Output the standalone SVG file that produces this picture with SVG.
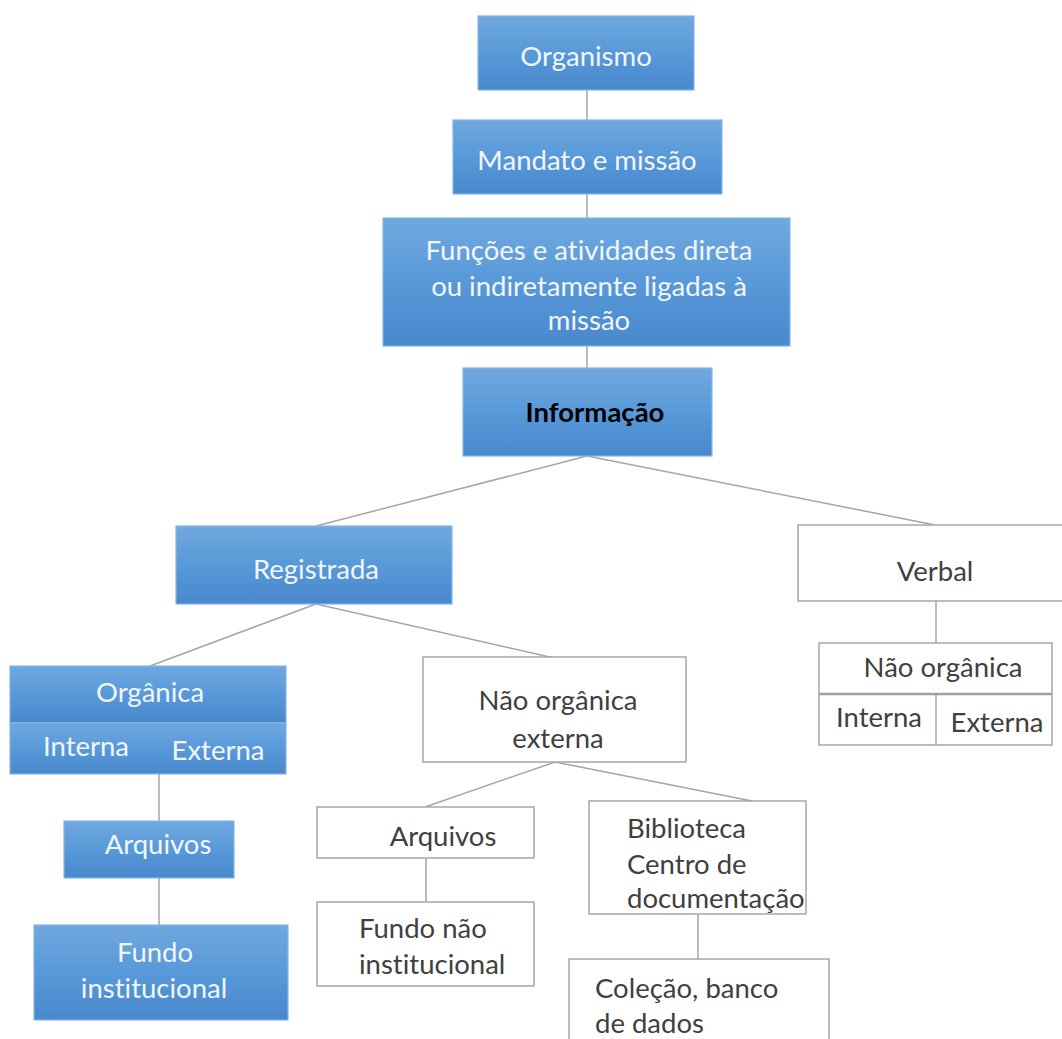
<svg xmlns="http://www.w3.org/2000/svg" width="1062" height="1039" viewBox="0 0 1062 1039">
<defs>
<linearGradient id="blue" x1="0" y1="0" x2="0" y2="1">
<stop offset="0" stop-color="#70a8df"/>
<stop offset="0.5" stop-color="#5899d9"/>
<stop offset="1" stop-color="#4888cc"/>
</linearGradient>
<style>
.b{fill:url(#blue);stroke:#86b6e4;stroke-width:1.2}
.w{fill:#ffffff;stroke:#a6a6a6;stroke-width:1.5}
.c{stroke:#a6a6a6;stroke-width:1.5;fill:none}
text{font-family:Lato,"Open Sans","Liberation Sans",sans-serif;font-size:27.5px;font-variant-ligatures:none}
.tb{fill:#f2f6fb;text-anchor:middle}
.tw{fill:#404040}
.m{text-anchor:middle}
</style>
</defs>
<rect width="1062" height="1039" fill="#ffffff"/>
<g id="connectors">
<line class="c" x1="587" y1="90" x2="587" y2="120"/>
<line class="c" x1="587" y1="194" x2="587" y2="218"/>
<line class="c" x1="587" y1="346" x2="587" y2="368"/>
<line class="c" x1="587" y1="456" x2="316" y2="526"/>
<line class="c" x1="587" y1="456" x2="935" y2="525"/>
<line class="c" x1="316" y1="604" x2="150" y2="666"/>
<line class="c" x1="316" y1="604" x2="554" y2="658"/>
<line class="c" x1="936" y1="601" x2="936" y2="643"/>
<line class="c" x1="159" y1="774" x2="159" y2="821"/>
<line class="c" x1="159" y1="878" x2="159" y2="925"/>
<line class="c" x1="555" y1="762" x2="425" y2="807"/>
<line class="c" x1="555" y1="762" x2="752" y2="801"/>
<line class="c" x1="426" y1="858" x2="426" y2="902"/>
<line class="c" x1="698" y1="914" x2="698" y2="959"/>
</g>
<g id="organismo">
<rect class="b" x="478" y="16" width="216" height="74"/>
<text class="tb" x="586" y="66">Organismo</text>
</g>
<g id="mandato">
<rect class="b" x="453" y="120" width="269" height="74"/>
<text class="tb" x="587" y="170">Mandato e missão</text>
</g>
<g id="funcoes">
<rect class="b" x="383" y="218" width="407" height="128"/>
<text class="tb" x="589" y="260">Funções e atividades direta</text>
<text class="tb" x="589" y="296">ou indiretamente ligadas à</text>
<text class="tb" x="589" y="330">missão</text>
</g>
<g id="informacao">
<rect class="b" x="463" y="368" width="249" height="88"/>
<text class="m" x="595" y="422" fill="#000000" font-weight="bold">Informação</text>
</g>
<g id="registrada">
<rect class="b" x="176" y="526" width="276" height="78"/>
<text class="tb" x="316" y="579">Registrada</text>
</g>
<g id="organica">
<rect class="b" x="10" y="666" width="276" height="57"/>
<rect class="b" x="10" y="723" width="276" height="51"/>
<text class="tb" x="150" y="702">Orgânica</text>
<text class="tb" x="86" y="756">Interna</text>
<text class="tb" x="218" y="760">Externa</text>
</g>
<g id="arquivos-inst">
<rect class="b" x="64" y="821" width="170" height="57"/>
<text class="tb" x="158" y="854">Arquivos</text>
</g>
<g id="fundo-inst">
<rect class="b" x="34" y="925" width="254" height="95"/>
<text class="tb" x="155" y="962">Fundo</text>
<text class="tb" x="154" y="998">institucional</text>
</g>
<g id="verbal">
<rect class="w" x="798" y="525" width="272" height="76"/>
<text class="tw m" x="935" y="581">Verbal</text>
</g>
<g id="nao-organica-verbal">
<rect class="w" x="819" y="643" width="233" height="102"/>
<line x1="819" y1="694" x2="1052" y2="694" stroke="#a0a0a0" stroke-width="2.5"/>
<line class="c" x1="936" y1="694" x2="936" y2="745"/>
<text class="tw m" x="943" y="677">Não orgânica</text>
<text class="tw m" x="879" y="727">Interna</text>
<text class="tw m" x="997" y="732">Externa</text>
</g>
<g id="nao-organica-externa">
<rect class="w" x="423" y="657" width="263" height="105"/>
<text class="tw m" x="558" y="710">Não orgânica</text>
<text class="tw m" x="558" y="748">externa</text>
</g>
<g id="arquivos-ext">
<rect class="w" x="317" y="807" width="217" height="51"/>
<text class="tw m" x="443" y="846">Arquivos</text>
</g>
<g id="fundo-nao-inst">
<rect class="w" x="317" y="902" width="217" height="84"/>
<text class="tw" x="359" y="938">Fundo não</text>
<text class="tw" x="359" y="974">institucional</text>
</g>
<g id="biblioteca">
<rect class="w" x="589" y="801" width="217" height="113"/>
<text class="tw" x="627" y="838">Biblioteca</text>
<text class="tw" x="627" y="874">Centro de</text>
<text class="tw" x="627" y="908">documentação</text>
</g>
<g id="colecao">
<rect class="w" x="569" y="959" width="260" height="100"/>
<text class="tw" x="595" y="998">Coleção, banco</text>
<text class="tw" x="595" y="1033">de dados</text>
</g>
</svg>
